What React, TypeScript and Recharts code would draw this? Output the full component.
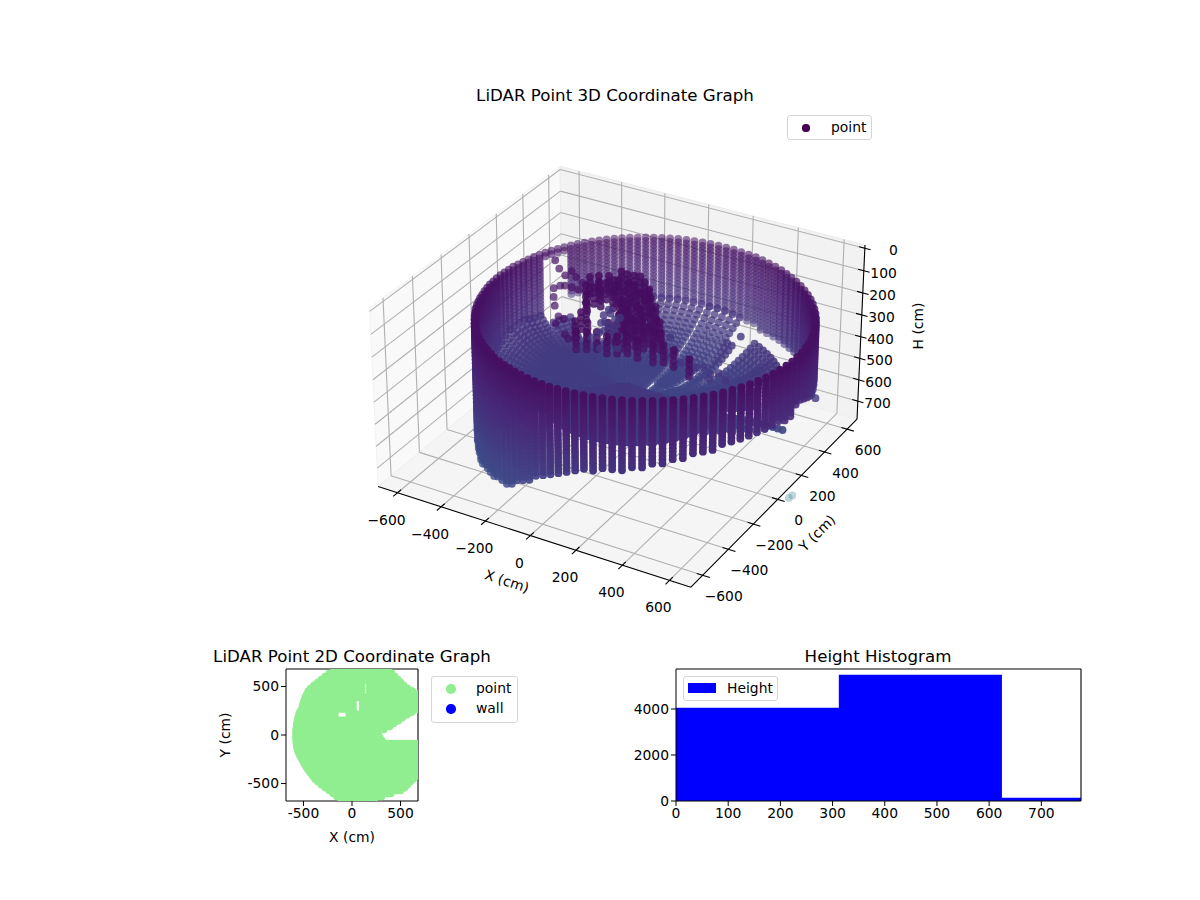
import React from 'react';
import {
  ScatterChart, Scatter, AreaChart, Area, XAxis, YAxis, ReferenceLine,
} from 'recharts';

const FONT = '"DejaVu Sans", sans-serif';

// scan columns round the sensor
const azimuths = [
  -180, -177, -174, -171, -168, -165, -162, -159, -156, -153, -150, -147, -144, -141, -138,
  -135, -132, -129, -126, -123, -120, -117, -114, -111, -108, -105, -102, -99, -96, -93,
  -90, -87, -84, -81, -78, -75, -72, -69, -66, -63, -60, -57, -54, -51, -48,
  -45, -42, -39, -36, -33, -30, -27, -24, -21, -18, -15, -12, -9, -6, -3,
  0, 3, 6, 9, 12, 15, 18, 21, 24, 27, 30, 33, 36, 39, 42,
  45, 48, 51, 54, 57, 60, 63, 66, 69, 72, 75, 78, 81, 84, 87,
  90, 93, 96, 99, 102, 105, 108, 111, 114, 117, 120, 123, 126, 129, 132,
  135, 138, 141, 144, 147, 150, 153, 156, 159, 162, 165, 168, 171, 174, 177,
];
const wallRadius = [
  549, 549, 549, 550, 550, 551, 552, 554, 555, 558, 561, 562, 565, 568, 572,
  575, 579, 583, 587, 590, 594, 599, 603, 609, 612, 617, 622, 628, 633, 637,
  643, 648, 654, 659, 664, 669, 675, 681, 685, 690, 696, 701, 705, 709, 714,
  719, 723, 727, 731, 734, 737, 740, 743, 745, 747, 749, 750, 751, 752, 753,
  753, 753, 752, 751, 750, 749, 747, 745, 743, 740, 737, 734, 731, 727, 723,
  719, 714, 709, 705, 701, 696, 690, 685, 681, 675, 669, 664, 659, 654, 648,
  643, 637, 633, 628, 622, 617, 612, 609, 603, 599, 594, 590, 587, 583, 579,
  575, 572, 568, 565, 562, 561, 558, 555, 554, 552, 551, 550, 550, 549, 549,
];
const wallTop = [
  132, 132, 132, 131, 131, 131, 131, 130, 130, 130, 130, 130, 129, 129, 129,
  129, 129, 128, 128, 128, 128, 127, 127, 127, 127, 127, 126, 126, 126, 126,
  126, 126, 125, 125, 125, 125, 125, 125, 125, 125, 125, 125, 125, 125, 125,
  125, 125, 125, 125, 126, 126, 126, 126, 126, 126, 127, 127, 127, 127, 128,
  128, 128, 128, 129, 129, 129, 130, 130, 130, 130, 131, 131, 131, 132, 132,
  132, 132, 133, 133, 133, 134, 134, 134, 134, 135, 135, 135, 135, 135, 135,
  135, 135, 135, 135, 136, 136, 136, 136, 136, 136, 136, 136, 136, 136, 136,
  136, 136, 135, 135, 135, 135, 135, 135, 134, 134, 134, 134, 133, 133, 133,
];
const wallBottom = [
  434, 447, 459, 474, 487, 501, 511, 522, 534, 550, 559, 582, 605, 628, 655,
  687, 688, 688, 688, 685, 684, 680, 675, 670, 665, 659, 642, 620, 598, 575,
  550, 532, 514, 496, 480, 462, 458, 451, 444, 437, 430, 422, 415, 408, 400,
  391, 385, 380, 375, 370, 365, 363, 362, 360, 358, 358, 362, 365, 368, 370,
  336, 350, 366, 380, 393, 414, 410, 405, 402, 398, 401, 410, 422, 434, 446,
  453, 458, 462, 462, 463, 466, 461, 454, 447, 441, 436, 432, 428, 425, 424,
  420, 418, 416, 414, 414, 413, 408, 403, 398, 394, 390, 386, 382, 378, 376,
  372, 368, 364, 160, 160, 160, 160, 415, 415, 408, 400, 402, 404, 408, 420,
];
// how far out (share of the wall radius) the ground returns reach; full columns carry on from the wall
const floorStart = [
  1, 1, 1, 1, 1, 1, 1, 1, 1, 1, 1, 1, 1, 1, 1,
  .55, .55, .55, .55, .55, .55, .55, .55, .55, .55, .55, .55, .55, .55, .55,
  .55, .55, .55, .55, .55, .55, .55, .55, .55, .55, .55, .55, .55, .55, .55,
  .55, .55, .55, .55, .55, .55, .55, .55, .55, .55, .55, .55, .55, .55, .55,
  .38, .42, .47, .55, .6, .68, .85, .7, .7, .7, .7, .7, .84, .84, .84,
  .84, .84, .84, .84, .84, .72, .72, .45, .45, .45, 1, 1, 1, 1, 1,
  1, 1, 1, 1, 1, 1, 1, 1, 1, 1, 1, .85, .85, .85, .85,
  .85, .85, .85, .9, .9, .9, .9, 1, 1, 1, 1, 1, 1, 1, 1,
];
const floorHead = [
  434, 447, 459, 474, 487, 501, 511, 522, 534, 550, 559, 582, 605, 628, 640,
  500, 500, 500, 500, 500, 500, 500, 500, 500, 500, 500, 500, 500, 500, 500,
  500, 500, 500, 500, 500, 500, 500, 500, 500, 500, 500, 500, 500, 500, 500,
  500, 500, 500, 500, 500, 500, 500, 500, 500, 500, 500, 500, 500, 500, 500,
  600, 600, 600, 600, 600, 600, 600, 520, 520, 520, 520, 520, 440, 440, 440,
  440, 440, 440, 440, 440, 440, 440, 620, 620, 620, 436, 432, 428, 425, 424,
  420, 418, 416, 414, 414, 413, 408, 403, 398, 394, 390, 560, 560, 560, 560,
  560, 560, 560, 430, 430, 430, 430, 415, 415, 408, 400, 402, 404, 408, 420,
];
const floorCentre = [
  520, 520, 520, 520, 520, 520, 520, 520, 520, 520, 520, 520, 520, 520, 520,
  480, 480, 480, 480, 480, 480, 480, 480, 480, 480, 480, 480, 480, 480, 480,
  470, 470, 470, 470, 470, 470, 470, 470, 470, 470, 470, 470, 470, 470, 470,
  470, 470, 470, 470, 470, 470, 470, 470, 470, 470, 470, 470, 470, 470, 470,
  560, 560, 560, 560, 560, 560, 560, 560, 560, 560, 560, 560, 560, 560, 560,
  600, 600, 600, 600, 600, 600, 600, 600, 600, 600, 600, 600, 600, 600, 600,
  570, 570, 570, 570, 570, 570, 570, 570, 570, 570, 570, 570, 570, 570, 570,
  540, 540, 540, 540, 540, 540, 540, 520, 520, 520, 520, 520, 520, 520, 520,
];
const wallRows = [
  0, 16, 32, 48, 64, 80, 96, 112, 128, 144, 160, 176, 192, 208, 224, 240, 256, 272, 288, 304, 320, 336, 352, 368, 384, 400, 416, 432, 448, 464, 480, 496, 512, 528, 544, 560,
];
const floorStops = [1, .97, .94, .91, .88, .85, .82, .79, .76, .73, .7, .67, .64, .61, .58, .55, .52, .49, .46, .43, .4, .37, .34, .31, .28, .25, .22, .19, .16, .13, .1, .07];
const floorRise = [0, .11, .21, .3, .38, .46, .53, .59, .65, .7, .75, .79, .82, .85, .87, .89, .91, .93, .94, .95, .96, .97, .98, .98, .99, .99, 1, 1, 1, 1, 1, 1];

// the tall object in the middle of the scan
const objectX = [-125, -95, -66, -41, -2, 41, 81, 130, 186, 249, 30, -26, -55, -99, -149, -183, -209, -187, -147, -114, -95, -78, -36, 11, 66, 119, 186, -4, 42, 99, 152, -129, -72, -120, 70, 5, 137, 63, 36, 35, 2, 302, 201, 118, -79, -7, 86, 92, 219, 186, 152, 85, 268, 352, 435, -153, 30, 146, 113, 119, 69, -31, -32, 203, 131, 45, 36, -115, -152];
const objectY = [212, 205, 207, 213, 179, 139, 81, 12, -61, -138, 92, 140, 147, 146, 157, 137, 113, 44, -14, -76, -147, -219, 77, 47, -1, -51, -118, -10, -97, -146, -163, 103, 55, 43, 58, 101, -25, -69, -167, -250, -270, -213, -232, -241, 92, 12, -14, -92, -140, -160, -221, -261, -233, -224, -256, 48, -7, -101, -105, -200, -172, -207, -290, -67, 29, 125, -44, 136, 89];
const objectLayers = [100, 125, 150, 175];
// the thin chain of returns running up to the back wall
const chainX = [-445, -395, -346, -342, -302, -256, -319, -330, -294, -254, -198, -171, -303, -273, -240, -105, -76, -178];
const chainY = [242, 190, 154, 197, 164, 134, 71, 41, -20, -78, -143, -151, 81, 83, 78, -251, -274, -197];
const CHAIN_H = 150;
// lighter returns inside the object, the ribbon to its right, and stray points
const strayX = [-327, -322, -265, -206, -266, -270, -201, -259, -156, -289, -232, -305, -255, -257, -239, -220, -299, -180, -197, -140, 239, -2, 71, 714, 60, 133, 204, 277, 350, 73, 154, 227, 301, 116, 200, 288];
const strayY = [460, 410, 403, 307, 279, 228, 171, 341, 238, 364, 340, 436, 425, 302, 369, 283, 350, 290, 231, 207, 532, 388, 292, 250, 245, 231, 224, 210, 197, 278, 260, 246, 232, 197, 189, 175];
const STRAY_H = 450;
const outlierX = [438, 442];
const outlierY = [607, 631];
const outlierH = [1200, 1200];

const xTicks = [-600, -400, -200, 0, 200, 400, 600];
const yTicks = [-600, -400, -200, 0, 200, 400, 600];
const hTicks = [0, 100, 200, 300, 400, 500, 600, 700];

// 2D panel: one row per Y value, filled X spans
const planY = [690, 660, 630, 600, 570, 540, 510, 480, 450, 420, 390, 360, 330, 300, 270, 240, 210, 180, 150, 120, 90, 60, 30, 0, -30, -60, -90, -120, -150, -180, -210, -240, -270, -300, -330, -360, -390, -420, -450, -480, -510, -540, -570, -600, -630, -660, -690];
const planSpans = [
  [-143, 333], [-198, 383], [-248, 423], [-288, 453], [-328, 483], [-363, 108, 172, 513],
  [-403, 108, 172, 543], [-438, 108, 172, 583], [-463, 108, 172, 633], [-478, 108, 172, 720], [-493, 720],
  [-503, -415, -365, 22, 98, 720], [-513, -415, -365, 22, 98, 720], [-521, -415, -365, 22, 98, 720],
  [-528, -415, -365, 22, 98, 720], [-548, -165, -40, 22, 98, 630], [-558, -165, -40, 580], [-568, -165, -40, 530], [-573, 490], [-579, 440],
  [-583, 400], [-587, 340], [-589, 280], [-589, 280], [-589, 300], [-587, 320], [-585, 720], [-581, 720],
  [-573, 720], [-563, 720], [-548, 720], [-533, 720], [-516, 720], [-500, 720], [-483, 720], [-463, 720],
  [-440, 720], [-418, 720], [-393, 643], [-363, 613], [-328, 583], [-288, 553], [-248, 513], [-208, 413],
  [-168, 318], [-123, 243], [-63, 193],
];

const heightEdges = [0, 312, 624.5, 776];
const heightCounts = [4058, 5493, 145, 145];

const X_LIM = 690;
const H_TOP = -15;
const H_BOTTOM = 785;

function project(x: number, y: number, h: number) {
  const qx = (x / (2 * X_LIM)) * 1.1905;
  const qy = (y / (2 * X_LIM)) * 1.1905;
  const qz = ((H_BOTTOM - h) / (H_BOTTOM - H_TOP) - 0.5) * 0.68;
  const depth = 0.433 * qx - 0.75 * qy + 0.5 * qz;
  const d = 10 - depth;
  const px = (0.866 * qx + 0.5 * qy) / d;
  const py = (-0.25 * qx + 0.433 * qy + 0.866 * qz) / d;
  return { sx: 622 + 2994 * px, sy: 365.5 - 2994 * py, depth };
}

const viridis = [[68, 1, 84], [72, 36, 117], [65, 68, 135], [53, 95, 141], [42, 120, 142], [33, 145, 140], [34, 168, 132]];
function colorFor(h: number) {
  const t = Math.min(0.59, Math.max(0, h / 2900)) * 10;
  const i = Math.floor(t);
  const f = t - i;
  const c = viridis[i].map((v, k) => Math.round(v + (viridis[i + 1][k] - v) * f));
  return `rgb(${c[0]},${c[1]},${c[2]})`;
}

function toPoint(x: number, y: number, h: number) {
  const p = project(x, y, h);
  const alpha = Math.min(1, Math.max(0.45, 0.45 + 0.55 * (p.depth + 0.5)));
  return { sx: p.sx, sy: p.sy, depth: p.depth, color: colorFor(h), alpha };
}

const cloud: any[] = [];
azimuths.forEach((az, i) => {
  const rad = (az * Math.PI) / 180;
  const r = wallRadius[i];
  wallRows.forEach((row) => {
    const h = wallTop[i] + row;
    if (h <= wallBottom[i]) cloud.push(toPoint(r * Math.cos(rad), r * Math.sin(rad), h));
  });
  const head = floorStart[i] === 1 ? wallBottom[i] : floorHead[i];
  floorStops.forEach((stop, k) => {
    if (stop < 0.4 && i % 2 === 1) return;
    const rr = r * floorStart[i] * stop;
    const h = head + (floorCentre[i] - head) * floorRise[k];
    const p = toPoint(rr * Math.cos(rad), rr * Math.sin(rad), h);
    cloud.push({ ...p, alpha: Math.min(1, p.alpha + 0.2) });
  });
});
objectX.forEach((x, i) => {
  objectLayers.forEach((h) => cloud.push({ ...toPoint(x, objectY[i], h), alpha: 0.85 }));
});
chainX.forEach((x, i) => cloud.push({ ...toPoint(x, chainY[i], CHAIN_H), alpha: 0.7, depth: 0.25 }));
strayX.forEach((x, i) => cloud.push({ ...toPoint(x, strayY[i], STRAY_H), alpha: 0.8, depth: 0.3 }));
outlierX.forEach((x, i) => cloud.push({ ...toPoint(x, outlierY[i], outlierH[i]), alpha: 0.3 }));
cloud.sort((a, b) => a.depth - b.depth);

const PLAN_INSET = 14;
const planPoints: { x: number; y: number }[] = [];
planY.forEach((y, i) => {
  const spans = planSpans[i];
  for (let s = 0; s < spans.length; s += 2) {
    const from = spans[s] + PLAN_INSET;
    const to = spans[s + 1] - PLAN_INSET;
    for (let x = from; x < to; x += 25) planPoints.push({ x, y });
    planPoints.push({ x: to, y });
  }
});

const histData = heightEdges.map((edge, i) => ({ height: edge, count: heightCounts[i] }));

const label = (v: number) => String(v).replace('-', '\u2212');
const tickLabels = [
  ...xTicks.map((v) => {
    const p = project(v, -X_LIM, H_BOTTOM);
    return { sx: p.sx - 11, sy: p.sy + 27, text: label(v), anchor: 'middle' };
  }),
  ...yTicks.map((v) => {
    const p = project(X_LIM, v, H_BOTTOM);
    return { sx: p.sx + 21, sy: p.sy + 21, text: label(v), anchor: 'middle' };
  }),
  ...hTicks.map((v) => {
    const p = project(X_LIM, X_LIM, v);
    return { sx: p.sx + 33, sy: p.sy + 2, text: label(v), anchor: 'end' };
  }),
];

function seg(a: number[], b: number[]) {
  const p = project(a[0], a[1], a[2]);
  const q = project(b[0], b[1], b[2]);
  return [{ x: p.sx, y: p.sy }, { x: q.sx, y: q.sy }];
}

const L = X_LIM;
const gridSegments = [
  ...xTicks.flatMap((v) => [seg([v, -L, H_BOTTOM], [v, L, H_BOTTOM]), seg([v, L, H_BOTTOM], [v, L, H_TOP])]),
  ...yTicks.flatMap((v) => [seg([-L, v, H_BOTTOM], [L, v, H_BOTTOM]), seg([-L, v, H_BOTTOM], [-L, v, H_TOP])]),
  ...hTicks.flatMap((v) => [seg([-L, -L, v], [-L, L, v]), seg([-L, L, v], [L, L, v])]),
];
const axisSegments = [
  seg([-L, -L, H_BOTTOM], [L, -L, H_BOTTOM]),
  seg([L, -L, H_BOTTOM], [L, L, H_BOTTOM]),
  seg([L, L, H_BOTTOM], [L, L, H_TOP]),
  ...xTicks.map((v) => seg([v, -L + 25, H_BOTTOM], [v, -L - 30, H_BOTTOM])),
  ...yTicks.map((v) => seg([L - 25, v, H_BOTTOM], [L + 30, v, H_BOTTOM])),
  ...hTicks.map((v) => seg([L - 25, L, v], [L + 25, L, v])),
];

function pane(corners: number[][]) {
  return corners.map((c) => {
    const p = project(c[0], c[1], c[2]);
    return `${p.sx},${p.sy}`;
  }).join(' ');
}

const CloudDot = (props: any) => (
  <circle cx={props.cx} cy={props.cy} r={3.9} fill={props.payload.color} fillOpacity={props.payload.alpha} />
);
const PlanDot = (props: any) => <circle cx={props.cx} cy={props.cy} r={4} fill="#90ee90" />;
const TickText = (props: any) => (
  <text x={props.cx} y={props.cy} textAnchor={props.payload.anchor} dominantBaseline="central" fontSize={13.89} fontFamily={FONT} fill="#000">
    {props.payload.text}
  </text>
);

const tickStyle = { fontSize: 13.89, fontFamily: FONT, fill: '#000' };
const labelStyle = { fontSize: 13.89, fontFamily: FONT, fill: '#000' };

function Title({ x, y, children }: any) {
  return (
    <div style={{ position: 'absolute', left: x, top: y, transform: 'translate(-50%,-50%)', fontFamily: FONT, fontSize: 16.67, whiteSpace: 'nowrap', color: '#000' }}>
      {children}
    </div>
  );
}

function LegendBox({ left, top, width, height, children }: any) {
  return (
    <div style={{ position: 'absolute', left, top, width, height, boxSizing: 'border-box', background: '#fff', border: '1px solid #d6d6d6', borderRadius: 3, fontFamily: FONT, fontSize: 13.89, color: '#000' }}>
      {children}
    </div>
  );
}

function LegendRow({ y, x, text, children }: any) {
  return (
    <>
      {children}
      <span style={{ position: 'absolute', left: x, top: y, transform: 'translateY(-50%)', lineHeight: 1 }}>{text}</span>
    </>
  );
}

const dot = (x: number, y: number, r: number, color: string) => (
  <span style={{ position: 'absolute', left: x - r, top: y - r, width: 2 * r, height: 2 * r, borderRadius: '50%', background: color }} />
);

export default function App() {
  return (
    <div style={{ position: 'absolute', left: 0, top: 0, width: 1200, height: 900, background: '#fff', overflow: 'hidden' }}>
      <svg width={1200} height={900} style={{ position: 'absolute', left: 0, top: 0 }}>
        <polygon points={pane([[-L, -L, H_BOTTOM], [-L, L, H_BOTTOM], [-L, L, H_TOP], [-L, -L, H_TOP]])} fill="#f9f9f9" stroke="#f3f3f3" />
        <polygon points={pane([[-L, L, H_BOTTOM], [L, L, H_BOTTOM], [L, L, H_TOP], [-L, L, H_TOP]])} fill="#f2f2f2" stroke="#ebebeb" />
        <polygon points={pane([[-L, -L, H_BOTTOM], [L, -L, H_BOTTOM], [L, L, H_BOTTOM], [-L, L, H_BOTTOM]])} fill="#f5f5f5" stroke="#efefef" />
      </svg>

      <div style={{ position: 'absolute', left: 0, top: 0 }}>
        <ScatterChart width={1200} height={900} margin={{ top: 0, right: 0, bottom: 0, left: 0 }}>
          <XAxis type="number" dataKey="sx" domain={[0, 1200]} hide allowDataOverflow />
          <YAxis type="number" dataKey="sy" domain={[0, 900]} reversed hide allowDataOverflow />
          {gridSegments.map((s, i) => (
            <ReferenceLine key={`g${i}`} segment={s} stroke="#b0b0b0" strokeWidth={1.1} />
          ))}
          {axisSegments.map((s, i) => (
            <ReferenceLine key={`a${i}`} segment={s} stroke="#000" strokeWidth={1.1} />
          ))}
          <Scatter data={cloud} shape={CloudDot} isAnimationActive={false} />
          <Scatter data={tickLabels} shape={TickText} isAnimationActive={false} />
        </ScatterChart>
      </div>

      <svg width={1200} height={900} style={{ position: 'absolute', left: 0, top: 0, pointerEvents: 'none' }} fontFamily={FONT} fontSize={13.89}>
        <text x={507} y={581} textAnchor="middle" dominantBaseline="central" transform="rotate(18 507 581)">X (cm)</text>
        <text x={817} y={533} textAnchor="middle" dominantBaseline="central" transform="rotate(-45 817 533)">Y (cm)</text>
        <text x={918} y={326} textAnchor="middle" dominantBaseline="central" transform="rotate(-90 918 326)">H (cm)</text>
      </svg>

      <Title x={615} y={95}>LiDAR Point 3D Coordinate Graph</Title>
      <LegendBox left={787} top={115} width={85} height={25}>
        <LegendRow x={43} y={12} text="point">{dot(18, 12, 3.6, '#440154')}</LegendRow>
      </LegendBox>

      <Title x={352} y={656}>LiDAR Point 2D Coordinate Graph</Title>
      <div style={{ position: 'absolute', left: 206, top: 649 }}>
        <ScatterChart width={214} height={202} margin={{ top: 20, right: 2, bottom: 0, left: 0 }}>
          <XAxis type="number" dataKey="x" domain={[-680, 680]} ticks={[-500, 0, 500]} allowDataOverflow height={50} tick={tickStyle} tickSize={5} tickMargin={2} stroke="#000" interval={0}
            label={{ value: 'X (cm)', position: 'insideBottom', offset: 9, style: labelStyle }} />
          <YAxis type="number" dataKey="y" domain={[-680, 680]} ticks={[-500, 0, 500]} allowDataOverflow width={80} tick={tickStyle} tickSize={5} tickMargin={2} stroke="#000" interval={0}
            label={{ value: 'Y (cm)', angle: -90, position: 'insideLeft', offset: 19, style: { ...labelStyle, textAnchor: 'middle' } }} />
          <Scatter name="point" data={planPoints} shape={PlanDot} isAnimationActive={false} />
          <Scatter name="wall" data={[]} fill="#0000ff" isAnimationActive={false} />
          <ReferenceLine x={680} stroke="#000" strokeWidth={1.1} />
          <ReferenceLine y={680} stroke="#000" strokeWidth={1.1} />
        </ScatterChart>
      </div>
      <LegendBox left={431} top={676} width={87} height={47}>
        <LegendRow x={44} y={12} text="point">{dot(19, 12, 4.7, '#90ee90')}</LegendRow>
        <LegendRow x={44} y={32} text="wall">{dot(19, 32, 4.7, '#0000ff')}</LegendRow>
      </LegendBox>

      <Title x={878} y={656}>Height Histogram</Title>
      <div style={{ position: 'absolute', left: 606, top: 649 }}>
        <AreaChart width={477} height={192} data={histData} margin={{ top: 20, right: 2, bottom: 0, left: 0 }}>
          <XAxis type="number" dataKey="height" domain={[0, 776]} ticks={[0, 100, 200, 300, 400, 500, 600, 700]} allowDataOverflow height={40} tick={tickStyle} tickSize={5} tickMargin={2} stroke="#000" interval={0} />
          <YAxis type="number" domain={[0, 5739]} ticks={[0, 2000, 4000]} allowDataOverflow width={70} tick={tickStyle} tickSize={5} tickMargin={2} stroke="#000" interval={0} />
          <Area type="stepAfter" dataKey="count" name="Height" fill="#0000ff" fillOpacity={1} stroke="none" isAnimationActive={false} />
          <ReferenceLine x={776} stroke="#000" strokeWidth={1.1} />
          <ReferenceLine y={5739} stroke="#000" strokeWidth={1.1} />
        </AreaChart>
      </div>
      <LegendBox left={683} top={676} width={95} height={25}>
        <span style={{ position: 'absolute', left: 4, top: 6, width: 28, height: 10, background: '#0000ff' }} />
        <LegendRow x={43} y={12} text="Height" />
      </LegendBox>
    </div>
  );
}
